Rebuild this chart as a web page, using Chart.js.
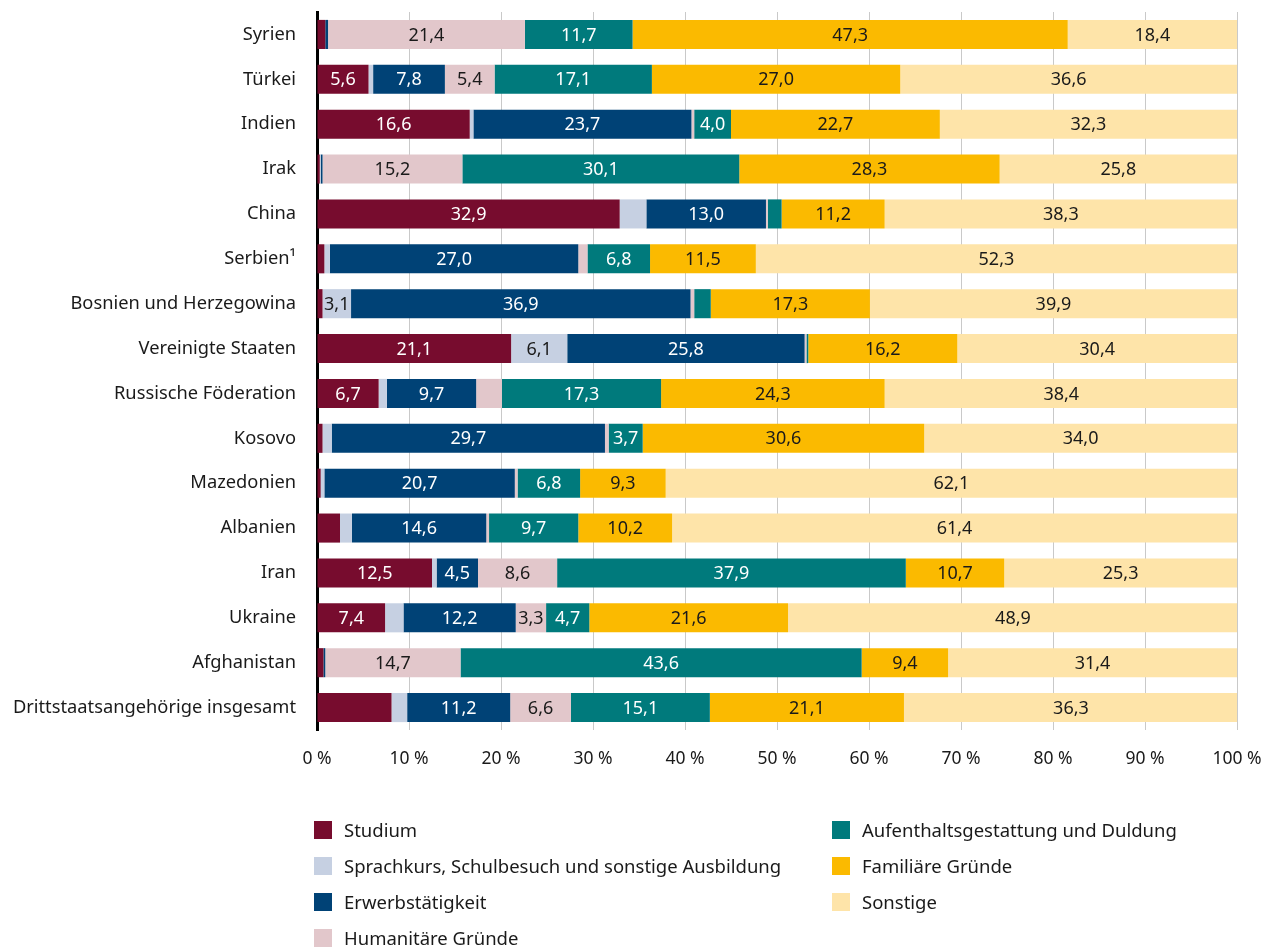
<!DOCTYPE html>
<html lang="de">
<head>
<meta charset="utf-8">
<title>Aufenthaltszwecke nach Staatsangehörigkeit</title>
<script src="https://cdn.jsdelivr.net/npm/chart.js@4.4.1/dist/chart.umd.min.js"></script>
<style>
  html, body { margin: 0; padding: 0; background: #fff; }
  body { font-family: "Noto Sans", sans-serif; color: #1a1a1a; }
  #wrap { position: relative; width: 1278px; height: 947px; overflow: hidden; }
  #chartBox { position: absolute; left: 0; top: 0; width: 1278px; height: 801px; }
  #legend { position: absolute; left: 0; top: 0; width: 1278px; height: 947px; pointer-events: none; }
  .lg-item { position: absolute; display: flex; align-items: center; font-size: 18.5px; line-height: 20px; white-space: nowrap; }
  .lg-box { width: 18px; height: 18px; margin-right: 12px; flex: none; }
</style>
</head>
<body>
<div id="wrap">
  <div id="chartBox"><canvas id="mainChart" width="1278" height="801"></canvas></div>
  <div id="legend"></div>
</div>
<script>
// ---- data (Anteile in %) ----
const categories = [
  'Syrien', 'Türkei', 'Indien', 'Irak', 'China', 'Serbien¹',
  'Bosnien und Herzegowina', 'Vereinigte Staaten', 'Russische Föderation',
  'Kosovo', 'Mazedonien', 'Albanien', 'Iran', 'Ukraine', 'Afghanistan',
  'Drittstaatsangehörige insgesamt'
];

const studium     = [0.9, 5.6, 16.6, 0.3, 32.9, 0.8, 0.6, 21.1, 6.7, 0.6, 0.4, 2.5, 12.5, 7.4, 0.7, 8.1];
const sprachkurs  = [0.0, 0.5, 0.4, 0.1, 2.9, 0.6, 3.1, 6.1, 0.9, 1.0, 0.4, 1.3, 0.5, 2.0, 0.0, 1.7];
const erwerb      = [0.3, 7.8, 23.7, 0.2, 13.0, 27.0, 36.9, 25.8, 9.7, 29.7, 20.7, 14.6, 4.5, 12.2, 0.2, 11.2];
const humanitaer  = [21.4, 5.4, 0.3, 15.2, 0.2, 1.0, 0.4, 0.2, 2.8, 0.4, 0.3, 0.3, 8.6, 3.3, 14.7, 6.6];
const aufenthalt  = [11.7, 17.1, 4.0, 30.1, 1.5, 6.8, 1.8, 0.2, 17.3, 3.7, 6.8, 9.7, 37.9, 4.7, 43.6, 15.1];
const familiaer   = [47.3, 27.0, 22.7, 28.3, 11.2, 11.5, 17.3, 16.2, 24.3, 30.6, 9.3, 10.2, 10.7, 21.6, 9.4, 21.1];
const sonstige    = [18.4, 36.6, 32.3, 25.8, 38.3, 52.3, 39.9, 30.4, 38.4, 34.0, 62.1, 61.4, 25.3, 48.9, 31.4, 36.3];

const xTicks = [0, 10, 20, 30, 40, 50, 60, 70, 80, 90, 100];

// segments without a printed value besides the small ones
const unlabeled = [['Drittstaatsangehörige insgesamt', 'Studium']];

// ---- series setup ----
const series = [
  { name: 'Studium', data: studium, color: '#770c2e', text: '#ffffff' },
  { name: 'Sprachkurs, Schulbesuch und sonstige Ausbildung', data: sprachkurs, color: '#c6d0e2', text: '#1a1a1a' },
  { name: 'Erwerbstätigkeit', data: erwerb, color: '#004276', text: '#ffffff' },
  { name: 'Humanitäre Gründe', data: humanitaer, color: '#e2c7cb', text: '#1a1a1a' },
  { name: 'Aufenthaltsgestattung und Duldung', data: aufenthalt, color: '#007a7c', text: '#ffffff' },
  { name: 'Familiäre Gründe', data: familiaer, color: '#fbba00', text: '#1a1a1a' },
  { name: 'Sonstige', data: sonstige, color: '#fee4a9', text: '#1a1a1a' }
];

const FONT = '"Noto Sans", sans-serif';
const LABEL_MIN = 3;
const fmt = (v) => v.toFixed(1).replace('.', ',');
const isUnlabeled = (cat, name) => unlabeled.some(([c, n]) => c === cat && n === name);

// value labels centred in each segment
const valueLabels = {
  id: 'valueLabels',
  afterDatasetsDraw(chart) {
    const { ctx } = chart;
    ctx.save();
    ctx.font = `18px ${FONT}`;
    ctx.textAlign = 'center';
    ctx.textBaseline = 'middle';
    chart.data.datasets.forEach((ds, di) => {
      const s = series[di];
      chart.getDatasetMeta(di).data.forEach((bar, i) => {
        const v = ds.data[i];
        if (v < LABEL_MIN || isUnlabeled(categories[i], s.name)) return;
        const { x, base, y } = bar.getProps(['x', 'base', 'y'], true);
        ctx.fillStyle = s.text;
        ctx.fillText(fmt(v), (x + base) / 2, y + 1);
      });
    });
    ctx.restore();
  }
};

const chart = new Chart(document.getElementById('mainChart'), {
  type: 'bar',
  data: {
    labels: categories,
    datasets: series.map(s => ({
      label: s.name,
      data: s.data,
      backgroundColor: s.color,
      borderWidth: 0,
      barPercentage: 0.81,
      categoryPercentage: 0.8
    }))
  },
  options: {
    indexAxis: 'y',
    responsive: false,
    animation: false,
    layout: { padding: { top: 12, right: 41, bottom: 12, left: 0 } },
    plugins: { legend: { display: false }, tooltip: { enabled: false } },
    scales: {
      x: {
        stacked: true,
        min: 0,
        max: 100,
        afterBuildTicks: (s) => { s.ticks = xTicks.map(v => ({ value: v })); },
        afterFit: (s) => { s.paddingLeft = 0; s.paddingRight = 0; },
        ticks: { callback: (v) => v + ' %', padding: 19, color: '#1a1a1a', font: { family: FONT, size: 17.5 }, maxRotation: 0 },
        grid: { color: '#c9c9c9', lineWidth: 1, drawTicks: false },
        border: { display: false }
      },
      y: {
        stacked: true,
        afterFit: (s) => { s.width = 317; s.paddingTop = 0; s.paddingBottom = 0; },
        ticks: { padding: 21, color: '#1a1a1a', font: { family: FONT, size: 18.3 } },
        grid: { display: false, drawTicks: false },
        border: { color: '#000000', width: 3 }
      }
    }
  },
  plugins: [valueLabels]
});

// ---- legend in two columns ----
const legendEl = document.getElementById('legend');
const legendCols = [[0, 1, 2, 3], [4, 5, 6]];
const colX = [314, 832];
legendCols.forEach((col, ci) => {
  col.forEach((si, ri) => {
    const s = series[si];
    const item = document.createElement('div');
    item.className = 'lg-item';
    item.style.left = colX[ci] + 'px';
    item.style.top = (820 + ri * 36) + 'px';
    item.innerHTML = `<span class="lg-box" style="background:${s.color}"></span><span>${s.name}</span>`;
    legendEl.appendChild(item);
  });
});
</script>
</body>
</html>
